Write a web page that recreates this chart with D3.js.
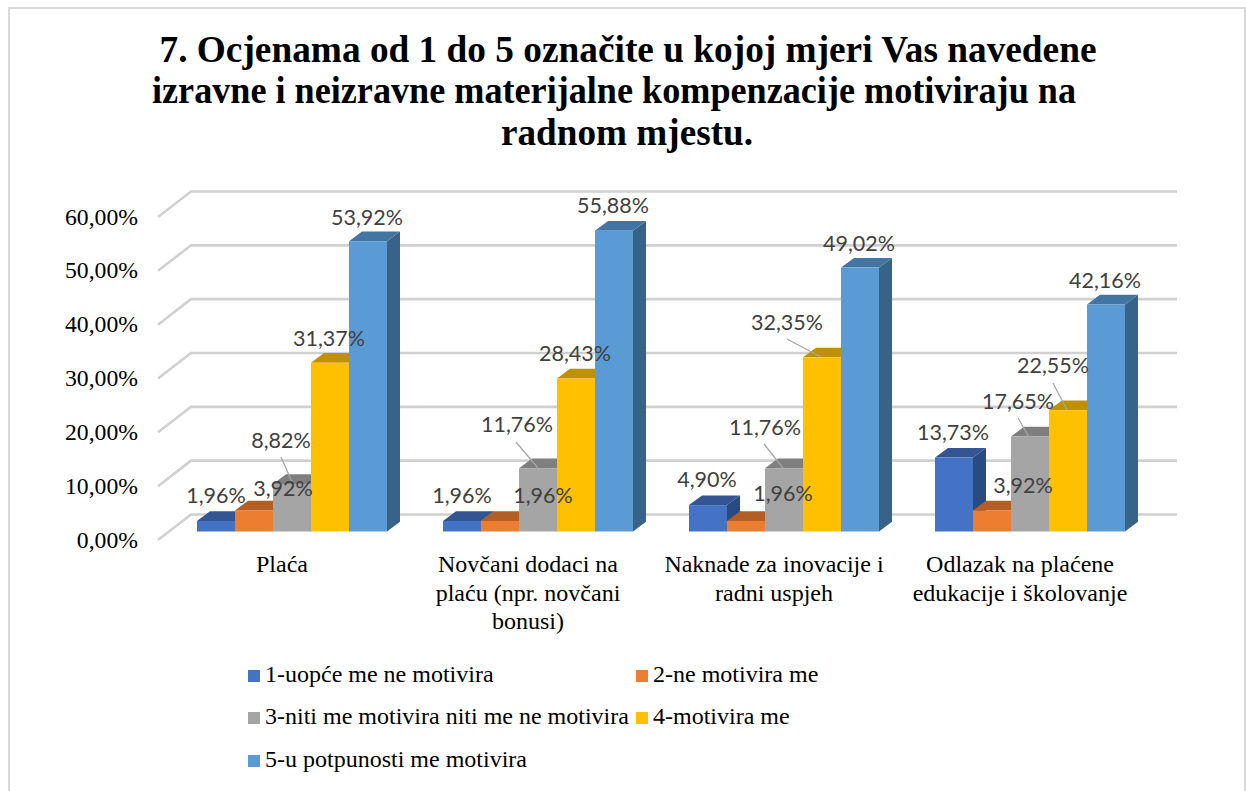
<!DOCTYPE html>
<html><head><meta charset="utf-8">
<script src="https://cdn.jsdelivr.net/npm/d3@7"></script>
<style>html,body{margin:0;padding:0;background:#fff;overflow:hidden}svg{display:block}</style>
</head><body><svg id="c" width="1246" height="791"></svg>
<script>
const titleLines = ["7. Ocjenama od 1 do 5 označite u kojoj mjeri Vas navedene","izravne i neizravne materijalne kompenzacije motiviraju na","radnom mjestu."];
const categories = ["Plaća","Novčani dodaci na plaću","Naknade za inovacije","Odlazak na plaćene"];
const categoryLines = [["Plaća"],["Novčani dodaci na","plaću (npr. novčani","bonusi)"],["Naknade za inovacije i","radni uspjeh"],["Odlazak na plaćene","edukacije i školovanje"]];
const seriesNames = ["1-uopće me ne motivira","2-ne motivira me","3-niti me motivira niti me ne motivira","4-motivira me","5-u potpunosti me motivira"];
const s1 = [1.96,1.96,4.90,13.73];
const s2 = [3.92,1.96,1.96,3.92];
const s3 = [8.82,11.76,11.76,17.65];
const s4 = [31.37,28.43,32.35,22.55];
const s5 = [53.92,55.88,49.02,42.16];
const tickValues = [0,10,20,30,40,50,60];

// presentation (kept apart from the data)
const seriesValues = [s1,s2,s3,s4,s5];
const frontColors = ["#4472c4","#ed7d31","#a5a5a5","#ffc000","#5b9bd5"];
const topColors = ["#335593","#b55e24","#7f7f7f","#bf9000","#4375a3"];
const sideColors = ["#2a4a82","#a05220","#6e6e6e","#a67d00","#386389"];
const labelCentres = [
 [[216,495],[462,495],[707,479],[953,432]],
 [[283,488],[543,495],[783,493],[1023,485]],
 [[281,440],[517,424],[765,427],[1018,401]],
 [[329,338],[575,353],[787,322],[1053,365]],
 [[367,217],[613,205],[859,243],[1105,280]]
];
const leaders = [
 [[281,457],[292,482]],[[516,442],[538,468]],[[764,444],[783,468]],
 [[787,339],[821,357]],[[1018,418],[1029,437]],[[1053,383],[1067,410]]
];

const SERIF = "'Liberation Serif','Times New Roman',serif";
const svg = d3.select("#c");
const loc = d3.formatLocale({decimal:",",thousands:".",grouping:[3],currency:["",""]});
const fmt = v => loc.format(".2f")(v) + "%";

const base = 531.5, depthX = 13, depthY = 9.7, wallDX = 33, wallEnd = 1177, wallDYTop = 17, wallDYFront = 8.5;
const y = d3.scaleLinear().domain([0,60]).range([base, base-323]);
const x0 = d3.scaleBand().domain(categories).range([158,1142]);
const x1 = d3.scaleBand().domain(seriesNames).range([39,229]);

// frame
svg.append("path").attr("d","M9,791V8H1245V791").attr("fill","none").attr("stroke","#d9d9d9").attr("stroke-width",2);

// title
const titleX = [628,614,627], titleY = [62,103,145], titleW = [937,924,252], titleSize = [37.5,37,37.5];
svg.append("g").selectAll("text").data(titleLines).join("text")
  .attr("x",(d,i)=>titleX[i]).attr("y",(d,i)=>titleY[i]).attr("text-anchor","middle")
  .attr("textLength",(d,i)=>titleW[i]).attr("lengthAdjust","spacingAndGlyphs")
  .attr("font-family",SERIF).attr("font-weight","bold").attr("font-size",(d,i)=>titleSize[i]).attr("fill","#000").text(d=>d);

// grid: back wall + side wall
const line = d3.line();
svg.append("g").selectAll("path").data(tickValues).join("path")
  .attr("d",v=>line([[x0.range()[0],y(v)+wallDYFront],[x0.range()[0]+wallDX,y(v)-wallDYTop],[wallEnd,y(v)-wallDYTop]]))
  .attr("fill","none").attr("stroke","#d0d0d0").attr("stroke-width",2.6);

// y axis
const axis = d3.axisLeft(y).tickValues(tickValues).tickSize(0).tickPadding(0).tickFormat(fmt);
const ag = svg.append("g").attr("transform","translate(138,8)").call(axis);
ag.select(".domain").remove();
ag.selectAll("text").attr("font-family",SERIF).attr("font-size",23.7).attr("fill","#000");

// bars
const barsG = svg.append("g");
categories.forEach((c,ci)=>{
  seriesNames.forEach((s,si)=>{
    const v = seriesValues[si][ci];
    const xl = x0(c)+x1(s), w = x1.bandwidth(), xr = xl+w, t = y(v), b = y(0);
    const g = barsG.append("g");
    g.append("path").attr("fill",sideColors[si])
      .attr("d",line([[xr,t],[xr+depthX,t-depthY],[xr+depthX,b-depthY],[xr,b]])+"Z");
    g.append("path").attr("fill",topColors[si])
      .attr("d",line([[xl,t],[xl+depthX,t-depthY],[xr+depthX,t-depthY],[xr,t]])+"Z");
    g.append("rect").attr("x",xl).attr("y",t).attr("width",w).attr("height",b-t).attr("fill",frontColors[si]);
  });
});

// leaders
svg.append("g").selectAll("path").data(leaders).join("path")
  .attr("d",d=>line(d)).attr("stroke","#a6a6a6").attr("stroke-width",1.3).attr("fill","none");

// data labels
const lg = svg.append("g");
seriesValues.forEach((vals,si)=>vals.forEach((v,ci)=>{
  lg.append("text").attr("x",labelCentres[si][ci][0]).attr("y",labelCentres[si][ci][1]+8)
    .attr("text-anchor","middle").attr("font-family","Lato,Carlito,sans-serif").attr("font-size",21.5)
    .attr("fill","#404040").text(fmt(v));
}));

// category labels
categoryLines.forEach((ls,i)=>{
  svg.append("g").selectAll("text").data(ls).join("text")
    .attr("x",x0(categories[i])+x0.bandwidth()/2+1).attr("y",(d,j)=>572+j*28.7)
    .attr("text-anchor","middle").attr("font-family",SERIF).attr("font-size",24).attr("fill","#000").text(d=>d);
});

// legend
const legendPos = [[248,670],[636,670],[248,712],[636,712],[248,755]];
const leg = svg.append("g").selectAll("g").data(seriesNames).join("g")
  .attr("transform",(d,i)=>`translate(${legendPos[i][0]},${legendPos[i][1]})`);
leg.append("rect").attr("width",12).attr("height",12).attr("fill",(d,i)=>frontColors[i]);
leg.append("text").attr("x",17).attr("y",12).attr("font-family",SERIF).attr("font-size",24).attr("fill","#000").text(d=>d);
</script></body></html>
